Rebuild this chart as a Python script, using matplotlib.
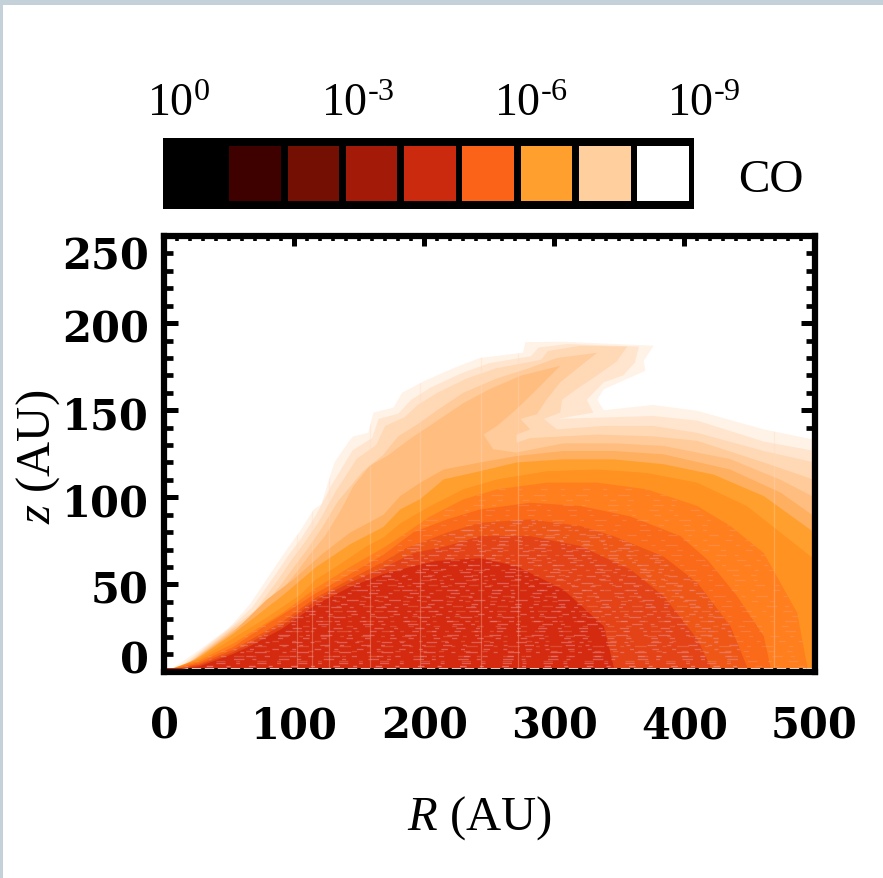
import matplotlib
matplotlib.use("Agg")
import matplotlib.pyplot as plt
from matplotlib.patches import Rectangle
from matplotlib.ticker import MultipleLocator
from matplotlib.transforms import ScaledTranslation

plt.rcParams['mathtext.fontset'] = 'custom'
plt.rcParams['mathtext.rm'] = 'Liberation Serif'
plt.rcParams['mathtext.it'] = 'Liberation Serif:italic'
plt.rcParams['mathtext.bf'] = 'Liberation Serif:bold'
plt.rcParams['font.family'] = 'Liberation Serif'

# ---- data ----------------------------------------------------------
bar_colors = ['#000000', '#3F0000', '#740F03', '#A41A08', '#CC2A0E',
              '#FB6418', '#FFA02E', '#FFD09E', '#FFFFFF']
bar_labels = ['$\\mathrm{10^{0}}$', '$\\mathrm{10^{\\text{-}3}}$', '$\\mathrm{10^{\\text{-}6}}$', '$\\mathrm{10^{\\text{-}9}}$']
x_ticks = [0, 100, 200, 300, 400, 500]
y_ticks = [0, 50, 100, 150, 200, 250]

c0_R = [0, 7, 27.7, 48, 53, 66, 84, 94.3, 104.6, 115, 121, 127.6, 131, 143, 145.6, 157, 161, 176.4, 183, 200.8, 223.8, 243,
        276, 277.7, 307, 376.4, 368.7, 370, 353, 338, 333, 338, 376, 410, 461, 500]
c0_z = [0, 2, 12.6, 24, 27.5, 38.5, 58.6, 70, 80.6, 93, 96, 112, 120, 133, 135, 137, 148.6, 151.5, 160, 167, 174.5, 180,
        183, 189, 189.3, 187, 178.3, 172.6, 167, 162, 156, 150, 153, 149.6, 139, 133]
c1_R = [0, 10, 27.7, 53, 68, 86, 96, 106, 117, 129.6, 145, 160, 165, 180, 190, 205, 228, 250, 282, 288, 310, 365,
        362, 353, 338, 325, 330, 302, 376, 410, 461, 500]
c1_z = [0, 1.5, 11.6, 26.5, 37, 56, 67, 77, 90, 108, 127, 134, 145, 148, 156, 163, 171, 177, 181, 186, 188, 186.5,
        177.4, 170, 166, 156, 148.6, 145, 146.7, 144, 132, 126.6]
c2_R = [0, 12, 27.7, 53, 70, 88, 98, 108, 119, 131.6, 148, 163, 170, 185, 195, 210, 232, 255, 290, 295, 320, 356,
        348, 333, 317, 306, 304.6, 292, 302, 338, 376, 410, 461, 500]
c2_z = [0, 1.5, 10.8, 25.5, 35, 53, 64, 74, 86, 103, 122, 130, 141, 146, 153, 160, 168, 174, 179, 184, 187, 186.5,
        178, 170, 162, 156, 148.6, 145, 139, 141, 141, 137, 126.6, 120]
c3_R = [0, 14, 27.7, 53, 72, 90, 100, 110, 121, 134, 153, 168, 180, 195, 210, 230, 255, 280, 302, 333,
        317, 304.6, 294, 286.7, 274, 281.5, 271, 271, 281.5, 333, 376, 410, 461, 500]
c3_z = [0, 1.5, 10, 24.5, 33, 50, 60, 70, 82, 98, 115, 124, 135, 142, 150, 160, 168, 174, 180, 183,
        173.5, 166, 156, 147.7, 145, 139, 136, 131.4, 134, 136, 135, 132.4, 120, 110]
c4_R = [0, 16, 27.7, 53, 74, 92, 102, 112, 124, 137, 145.6, 158, 172, 190, 210, 230, 250, 275, 304.6,
        294.4, 284, 271, 256, 245.6, 253, 271, 307, 345.6, 384, 435, 474, 500]
c4_z = [0, 1.5, 9.5, 23.5, 31, 48, 57, 67, 78, 94, 106.5, 118, 124, 134, 144, 154, 162, 170, 175.5,
        167.8, 160, 150.6, 141, 136, 127.6, 125.7, 131, 131, 129.5, 122, 110, 100]
c5_R = [0, 12, 27.7, 53, 66, 79, 99.5, 122.5, 143, 168.7, 181.5, 197, 215, 243, 271, 307, 345.6, 384, 435, 474, 500]
c5_z = [0, 2, 9, 22.5, 31.8, 41.3, 52.8, 68, 79.7, 90, 100.7, 108.4, 116, 120, 123.7, 126.6, 126.6, 124.7, 116, 102.7, 89]
c6_R = [0, 14.8, 27.7, 53, 66, 91.8, 117, 143, 168.7, 181.5, 197, 215, 243, 271, 307, 345.6, 384, 422.6, 461, 500]
c6_z = [0, 2, 8.5, 21.5, 29, 44, 60, 73, 83, 93, 99, 110.3, 115, 120, 121.8, 121.8, 119, 113, 100.7, 79.7]
c7_R = [0, 27.7, 53, 79, 104.6, 117, 130, 156, 168.7, 181.5, 204.6, 230, 256, 294.4, 333, 371, 410, 448, 474, 500]
c7_z = [0, 7.5, 19, 31, 44, 53, 59, 72, 77, 85, 95, 104.6, 110.3, 115, 116, 114, 108.4, 95, 79.7, 64.4]
c8_R = [0, 27.7, 53, 66, 91.8, 117, 143, 168.7, 179, 204.6, 230, 256, 294.4, 333, 371, 410, 435.4, 461, 486.7, 494.4, 494]
c8_z = [0, 6.5, 16, 22, 34, 48, 60, 71, 76, 89, 98.8, 104.6, 108.4, 108.4, 104.6, 95, 83.5, 68, 33.7, 3, 0]
c9_R = [0, 27.7, 53, 79, 104.6, 117, 143, 168.7, 192, 217.4, 243, 281.5, 320, 358.5, 397, 417.4, 440.5, 461, 466, 466]
c9_z = [0, 5.5, 14, 27, 39, 45, 56, 67, 80, 87.3, 93, 96.9, 95, 89, 77.7, 64.4, 43.3, 20.3, 3, 0]
c10_R = [0, 27.7, 53, 66, 91.8, 117, 143, 168.7, 186.7, 217.4, 243, 281.5, 320, 345.6, 384, 410, 435.4, 448, 448]
c10_z = [0, 4.5, 12.5, 18, 29, 42.5, 53, 63, 71, 79.7, 85.4, 87.3, 83.5, 77.7, 66, 50.9, 26, 3, 0]
c11_R = [0, 27.7, 53, 66, 91.8, 117, 143, 168.7, 192, 217.4, 243, 281.5, 320, 358.5, 384, 410, 420, 420]
c11_z = [0, 3.8, 11, 16.5, 27, 41, 51, 59.5, 68, 72, 77.7, 77.7, 72, 58.6, 43.3, 18.4, 3, 0]
c12_R = [0, 27.7, 53, 66, 91.8, 117, 143, 168.7, 192, 209.8, 243, 271, 307, 338, 345.6, 345.6]
c12_z = [0, 3, 10, 14.5, 25, 38.5, 48.5, 56, 60.5, 63.5, 65, 60.5, 47, 26, 3, 0]
contour_colors = ['#FFF2E6', '#FFE5CE', '#FFD9B5', '#FFCB9B', '#FFBE80', '#FFAF60', '#FFA02E',
                  '#FF9220', '#FF7F1E', '#FA6A18', '#EE5716', '#E34316', '#D42A0F']
seam_R = [102, 114, 127, 158, 197, 244, 272, 469]
# --------------------------------------------------------------------

W, H = 883, 879
fig = plt.figure(figsize=(W / 100, H / 100), dpi=100, facecolor='white')
fig.patches.append(Rectangle((0, 0), 1, 1, transform=fig.transFigure, fc='#C5D1D8', ec='none', zorder=-5))
fig.patches.append(Rectangle((3.5 / W, 0), 1, 1 - 5.5 / H, transform=fig.transFigure, fc='white', ec='none', zorder=-4))

ax = fig.add_axes([164 / W, 1 - 672.5 / H, 650.5 / W, 435.5 / H], facecolor='white')
ax.set_xlim(0, 500)
ax.set_ylim(0, 250)

Rs = [c0_R, c1_R, c2_R, c3_R, c4_R, c5_R, c6_R, c7_R, c8_R, c9_R, c10_R, c11_R, c12_R]
Zs = [c0_z, c1_z, c2_z, c3_z, c4_z, c5_z, c6_z, c7_z, c8_z, c9_z, c10_z, c11_z, c12_z]
polys = []
for i, (r, z, c) in enumerate(zip(Rs, Zs, contour_colors)):
    end = r[-1]
    p = ax.fill(list(r) + [end, 0], list(z) + [2, 2], color=c, lw=0, zorder=2 + i * 0.01)[0]
    polys.append(p)

# faint seams and horizontal dash texture of the original rendering
for k, r in enumerate(seam_R):
    ln, = ax.plot([r, r], [0, 200], color=(1, 0.85, 0.75, 0.3), lw=0.9, zorder=3)
    ln.set_clip_path(polys[0])
patterns = [(5, 10, 3, 14), (3, 13, 7, 8), (8, 6, 3, 17), (4, 15, 5, 9), (3, 8, 9, 12)]
# sparse dashes over the orange bands, denser pink dashes over the red core
for clip_index, pitch, colour in [(8, 2.9, (0.98, 0.68, 0.60, 0.26)), (10, 2.0, (0.93, 0.58, 0.60, 0.50))]:
    row = 0
    zv = 3.0
    while zv < 105:
        ln, = ax.plot([0, 500], [zv, zv], color=colour, lw=0.95, zorder=3.1, dash_capstyle='butt')
        ln.set_dashes(patterns[row % 5])
        ln._dash_pattern = ((row * 7.3) % 23, ln._dash_pattern[1])
        ln.set_clip_path(polys[clip_index])
        row += 1
        zv += pitch

for s in ax.spines.values():
    s.set_linewidth(4.5)
    s.set_zorder(6)
    s.set_capstyle('projecting')
ax.set_xticks(x_ticks)
ax.set_yticks(y_ticks)
ax.xaxis.set_minor_locator(MultipleLocator(10))
ax.yaxis.set_minor_locator(MultipleLocator(10))
ax.tick_params(axis='x', which='major', direction='in', top=True, length=7.5, width=3.6, pad=24, labelsize=30, zorder=7)
ax.tick_params(axis='x', which='minor', direction='in', top=True, length=3.8, width=2.6, zorder=7)
ax.tick_params(axis='y', which='major', direction='in', right=True, length=10, width=3.6, pad=11, labelsize=30, zorder=7)
ax.tick_params(axis='y', which='minor', direction='in', right=True, length=6.5, width=3.4, zorder=7)
for lab in ax.get_xticklabels() + ax.get_yticklabels():
    lab.set_fontfamily('DejaVu Serif')
    lab.set_fontweight('bold')
y_off = {0: 15, 250: -16}
for lab, v in zip(ax.get_yticklabels(), y_ticks):
    off = y_off.get(v, -2)
    lab.set_transform(lab.get_transform() + ScaledTranslation(0, off / 72 * 0.72, fig.dpi_scale_trans))

# colour bar
cax = fig.add_axes([163 / W, 1 - 209.5 / H, 530.5 / W, 70.5 / H], facecolor='black')
cax.axis('off')
cax.add_patch(Rectangle((0, 0), 1, 1, transform=cax.transAxes, fc='black', ec='none'))
cax.bar(range(len(bar_colors)), [0.785] * len(bar_colors), bottom=0.105, width=0.885,
        align='center', color=bar_colors, lw=0)
cax.set_xlim(-0.5 - 0.08, len(bar_colors) - 0.5 + 0.02)
cax.set_ylim(0, 1)

for txt, xc in zip(bar_labels, [179, 358, 531, 704]):
    fig.text(xc / W, 1 - 116 / H, txt, ha='center', va='baseline', fontsize=33, color='black')
fig.text(771 / W, 1 - 192 / H, 'CO', ha='center', va='baseline', fontsize=34)
fig.text(479 / W, 1 - 830 / H, '$\\mathit{R}$ (AU)', ha='center', va='baseline', fontsize=35)
fig.text(38 / W, 1 - 457 / H, '$\\mathit{z}$ (AU)', ha='center', va='center', rotation=90, fontsize=35)

fig.savefig('out.png', dpi=100, facecolor='white')
